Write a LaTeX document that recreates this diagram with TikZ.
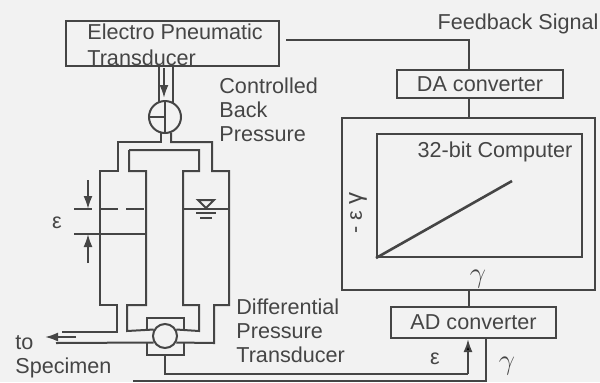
\documentclass[tikz,border=0pt]{standalone}
\usepackage{fontspec}
\setmainfont{Liberation Sans}
\usetikzlibrary{
    arrows.meta,
    calc,
    positioning
}
\definecolor{inkgrey}{gray}{0.27}
\definecolor{papergrey}{gray}{0.95}
\tikzset{
    pipe/.style={draw=inkgrey, line width=1pt},
    boxnode/.style={draw=inkgrey, line width=1pt, text=inkgrey, inner sep=0pt, font=\fontsize{10.8}{12}\selectfont},
    textnode/.style={text=inkgrey, inner sep=0pt, align=left, font=\fontsize{10.8}{12}\selectfont},
    flowtip/.style={-{Latex[length=6.5pt, width=4.5pt]}}
}

\begin{document}
\begin{tikzpicture}[x=0.5pt, y=-0.5pt]
    \fill[papergrey] (0, 0) rectangle (600, 382);
    \useasboundingbox (0, 0) rectangle (600, 382);

    \node[boxnode, minimum width=106.5pt, minimum height=22.5pt] (epbox) at (172.5, 43.5) {};
    \node[textnode, anchor=north west, font=\fontsize{10.8}{13}\selectfont] (eptext) at (87, 23) {Electro Pneumatic\\Transducer};
    \node[boxnode, minimum width=83pt, minimum height=14pt] (dabox) at (480, 84) {DA converter};
    \node[boxnode, minimum width=126.5pt, minimum height=86pt] (outerbox) at (468.5, 204) {};
    \node[boxnode, minimum width=102.5pt, minimum height=61.5pt] (plotbox) at (479.5, 195.5) {};
    \node[boxnode, minimum width=82.5pt, minimum height=15.5pt] (adbox) at (473.5, 322.5) {AD converter};
    \node[textnode] (feedback) at (518, 24) {Feedback Signal};
    \node[textnode] (computer) at (495, 152) {32-bit Computer};
    \node[textnode, anchor=north west] (backtext) at (219, 77) {Controlled\\Back\\Pressure};
    \node[textnode, anchor=north west] (difftext) at (236, 298) {Differential\\Pressure\\Transducer};
    \node[textnode, anchor=north west] (totext) at (15, 335) {to\\Specimen};
    \node[textnode, rotate=90] (axislabel) at (358, 213) {- ε \large γ};
    \node[textnode] (gammaup) at (478, 279) {\Large$\gamma$};
    \node[textnode] (epsright) at (435, 359) {ε};
    \node[textnode] (gammaright) at (507, 366) {\Large$\gamma$};
    \node[textnode] (epsleft) at (57, 223) {ε};

    \node[draw=inkgrey, line width=1pt, circle, minimum size=16pt, inner sep=0pt] (valve) at (165, 117) {};
    \node[draw=inkgrey, line width=1pt, circle, minimum size=12pt, inner sep=0pt] (sensor) at (165, 336) {};

    \coordinate (feedstart) at (286, 40);
    \coordinate (housing) at (165, 355);
    \coordinate (epsin) at (468, 339);
    \coordinate (gammain) at (486, 338);
    \coordinate (gammastart) at (133, 381);
    \coordinate (plotend) at (512, 181);

    % signal lines
    \draw[pipe] (feedstart) -| (outerbox.north |- dabox.north);
    \draw[pipe] (outerbox.north |- dabox.south) -- (outerbox.north);
    \draw[pipe] (outerbox.south) -- (outerbox.south |- adbox.north);
    \draw[pipe] (housing) |- (epsin |- 0, 374) edge[flowtip] (epsin);
    \draw[pipe] (gammastart) -| (gammain);

    % plot
    \draw[draw=inkgrey, line width=1.3pt] (plotbox.south west) -- (plotend);

    % upper tubes
    \draw[pipe] (159, 66) -- (159, 103) (173, 66) -- (173, 103);
    \draw[pipe, flowtip] (164, 68) -- (164, 98);
    \draw[pipe] (valve.west) -- (valve.center) (valve.north) -- (valve.south);
    \draw[pipe] (161, 133) -- (161, 142) -- (118, 142) -- (118, 171) -- (100, 171) -- (100, 305)
        -- (117, 305) -- (117, 332) -- (62, 332);
    \draw[pipe] (171, 133) -- (171, 142) -- (212, 142) -- (212, 171) -- (229, 171) -- (229, 305)
        -- (214, 305) -- (214, 343) -- (sensor.-30);
    \draw[pipe] (129, 150) -- (199, 150) -- (199, 171) -- (183, 171) -- (183, 305)
        -- (199, 305) -- (199, 331) -- (sensor.30);
    \draw[pipe] (129, 150) -- (129, 171) -- (146, 171) -- (146, 305)
        -- (127, 305) -- (127, 331) -- (sensor.150);
    \draw[pipe] (56, 343) -- (sensor.210);
    \draw[pipe, flowtip] (76, 337) -- (45, 337);

    % sensor housing
    \draw[pipe] (147, 331) -- (147, 318) -- (184, 318) -- (184, 331);
    \draw[pipe] (147, 343) -- (147, 355) -- (184, 355) -- (184, 343);

    % levels
    \draw[pipe, dash pattern=on 9pt off 4pt] (74, 209) -- (146, 209);
    \draw[pipe] (74, 234) -- (146, 234);
    \draw[pipe] (183, 209) -- (229, 209);
    \draw[pipe, flowtip] (88, 180) -- (88, 209);
    \draw[pipe, flowtip] (88, 263) -- (88, 234);
    \draw[pipe] (198, 200) -- (214, 200) -- (206, 208) -- cycle;
    \draw[pipe] (196, 213) -- (216, 213);
    \draw[pipe] (200, 218) -- (212, 218);
\end{tikzpicture}
\end{document}
